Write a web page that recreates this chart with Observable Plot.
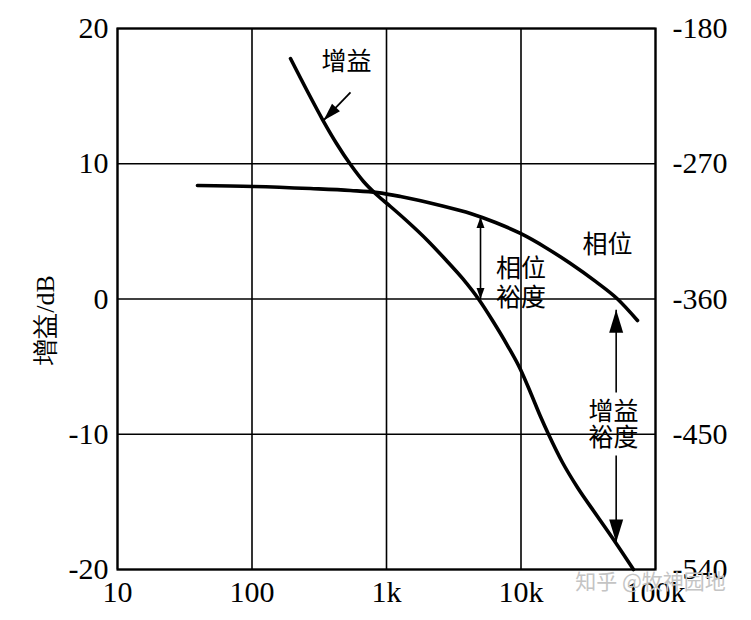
<!DOCTYPE html>
<html>
<head>
<meta charset="utf-8">
<script src="https://cdn.jsdelivr.net/npm/d3@7"></script>
<script src="https://cdn.jsdelivr.net/npm/@observablehq/plot@0.6"></script>
<style>
  html, body { margin: 0; padding: 0; background: white; }
</style>
</head>
<body>
<div id="chart"></div>
<script>
// ---- data ----
const freqTicks = [10, 100, 1000, 10000, 100000];
const freqLabels = ["10", "100", "1k", "10k", "100k"];
const gainTicks = [20, 10, 0, -10, -20];
const phaseTicks = [-180, -270, -360, -450, -540];

// gain curve (Hz, dB)
const gainFreq = [193.3, 258.6, 334.4, 425, 540, 674.5, 857.6, 1070.7, 1432.6, 2017, 2746, 3674, 4831, 6139, 7936, 9914, 11767, 13960, 16014, 20350, 26310, 37060, 50430, 68610];
const gainDb   = [17.78, 15.34, 13.27, 11.5, 9.94, 8.69, 7.65, 6.84, 5.73, 4.33, 2.92, 1.52, 0, -1.59, -3.44, -5.21, -6.91, -8.69, -10.0, -12.09, -13.94, -16.08, -18.0, -20.0];

// phase curve (Hz, degrees)
const phaseFreq = [39.3, 102.6, 272, 540, 857.6, 1271, 2521, 4212, 6463, 9914, 15210, 23340, 35810, 52190, 73480];
const phaseDeg  = [-284.5, -285.1, -286.5, -287.8, -289.2, -291.8, -297.8, -303.1, -309.1, -316.4, -325.7, -336.4, -348.3, -360, -374.3];

// annotations
const labelTexts = ["增益", "相位", "相位", "裕度", "增益", "裕度"];
const labelFreqs = [504, 43960, 10000, 10000, 48730, 48730];
const labelDb    = [17.5, 3.96, 2.25, 0.11, -8.39, -10.31];

const phaseToDb = p => (p + 360) / 9;

const gainData = gainFreq.map((f, i) => ({f, v: gainDb[i]}));
const phaseData = phaseFreq.map((f, i) => ({f, v: phaseToDb(phaseDeg[i])}));
const labels = labelTexts.map((t, i) => ({t, f: labelFreqs[i], v: labelDb[i]}));

// arrows
const gainLabelArrow = [{f1: 540, v1: 15.27, f2: 340, v2: 13.2}];
const phaseMarginArrow = [{f1: 5000, v1: 0, f2: 5000, v2: phaseToDb(-305.5)}];
const gainMarginArrows = [
  {f1: 51000, v1: -6.91, f2: 51000, v2: -0.8},
  {f1: 51000, v1: -11.57, f2: 51000, v2: -18.0}
];

function head(len, wid) {
  return (color, context) => {
    const m = d3.create("svg:marker")
      .attr("viewBox", `${-len} ${-wid / 2} ${len} ${wid}`)
      .attr("markerUnits", "userSpaceOnUse")
      .attr("markerWidth", len)
      .attr("markerHeight", wid)
      .attr("refX", 0)
      .attr("refY", 0)
      .attr("orient", "auto-start-reverse")
      .attr("overflow", "visible");
    m.append("path")
      .attr("d", `M0,0L${-len},${-wid / 2}L${-len},${wid / 2}Z`)
      .attr("fill", color)
      .attr("stroke", "none");
    return m.node();
  };
}

const serif = "Liberation Serif, Times New Roman, Times, serif";
const cjk = "Noto Sans CJK SC, sans-serif";

const chart = Plot.plot({
  width: 751,
  height: 620,
  marginLeft: 117,
  marginRight: 96,
  marginTop: 28,
  marginBottom: 51,
  style: {fontFamily: serif, fontSize: "30px", background: "white", color: "black"},
  x: {type: "log", domain: [10, 100000]},
  y: {domain: [-20, 20]},
  marks: [
    Plot.gridX(freqTicks, {stroke: "black", strokeOpacity: 1, strokeWidth: 1.6}),
    Plot.gridY(gainTicks, {stroke: "black", strokeOpacity: 1, strokeWidth: 1.6}),
    Plot.frame({stroke: "black", strokeWidth: 2.2}),
    Plot.axisY({anchor: "left", ticks: gainTicks, tickFormat: d => String(d), tickSize: 0, tickPadding: 9, label: null, fontSize: 30, fontFamily: serif}),
    Plot.axisY({anchor: "right", ticks: gainTicks, tickFormat: d => String(phaseTicks[gainTicks.indexOf(d)]), tickSize: 0, tickPadding: 17, label: null, fontSize: 30, fontFamily: serif}),
    Plot.axisX({ticks: freqTicks, tickFormat: d => freqLabels[freqTicks.indexOf(d)], tickSize: 0, tickPadding: 11, label: null, fontSize: 30, fontFamily: serif}),
    Plot.text(["增益/dB"], {frameAnchor: "left", dx: -72, dy: 21, rotate: -90, fontFamily: serif, fontSize: 26, textAnchor: "middle"}),
    Plot.line(phaseData, {x: "f", y: "v", stroke: "black", strokeWidth: 3.6, curve: "monotone-x"}),
    Plot.line(gainData, {x: "f", y: "v", stroke: "black", strokeWidth: 3.6, curve: "monotone-x"}),
    Plot.link(gainLabelArrow, {x1: "f1", y1: "v1", x2: "f2", y2: "v2", stroke: "black", strokeWidth: 1.8, markerEnd: head(18, 11)}),
    Plot.link(phaseMarginArrow, {x1: "f1", y1: "v1", x2: "f2", y2: "v2", stroke: "black", strokeWidth: 1.6, markerStart: head(11, 8), markerEnd: head(11, 8)}),
    Plot.link(gainMarginArrows, {x1: "f1", y1: "v1", x2: "f2", y2: "v2", stroke: "black", strokeWidth: 1.6, markerEnd: head(23, 14)}),
    Plot.text(labels, {x: "f", y: "v", text: "t", fontFamily: cjk, fontSize: 25, fill: "black"}),
    Plot.text(["知乎 @牧神园地"], {frameAnchor: "bottom-right", dx: -5, dy: 19, textAnchor: "middle", fontFamily: cjk, fontSize: 21, fill: "#c4c4c4"})
  ]
});

document.getElementById("chart").appendChild(chart);
</script>
</body>
</html>
